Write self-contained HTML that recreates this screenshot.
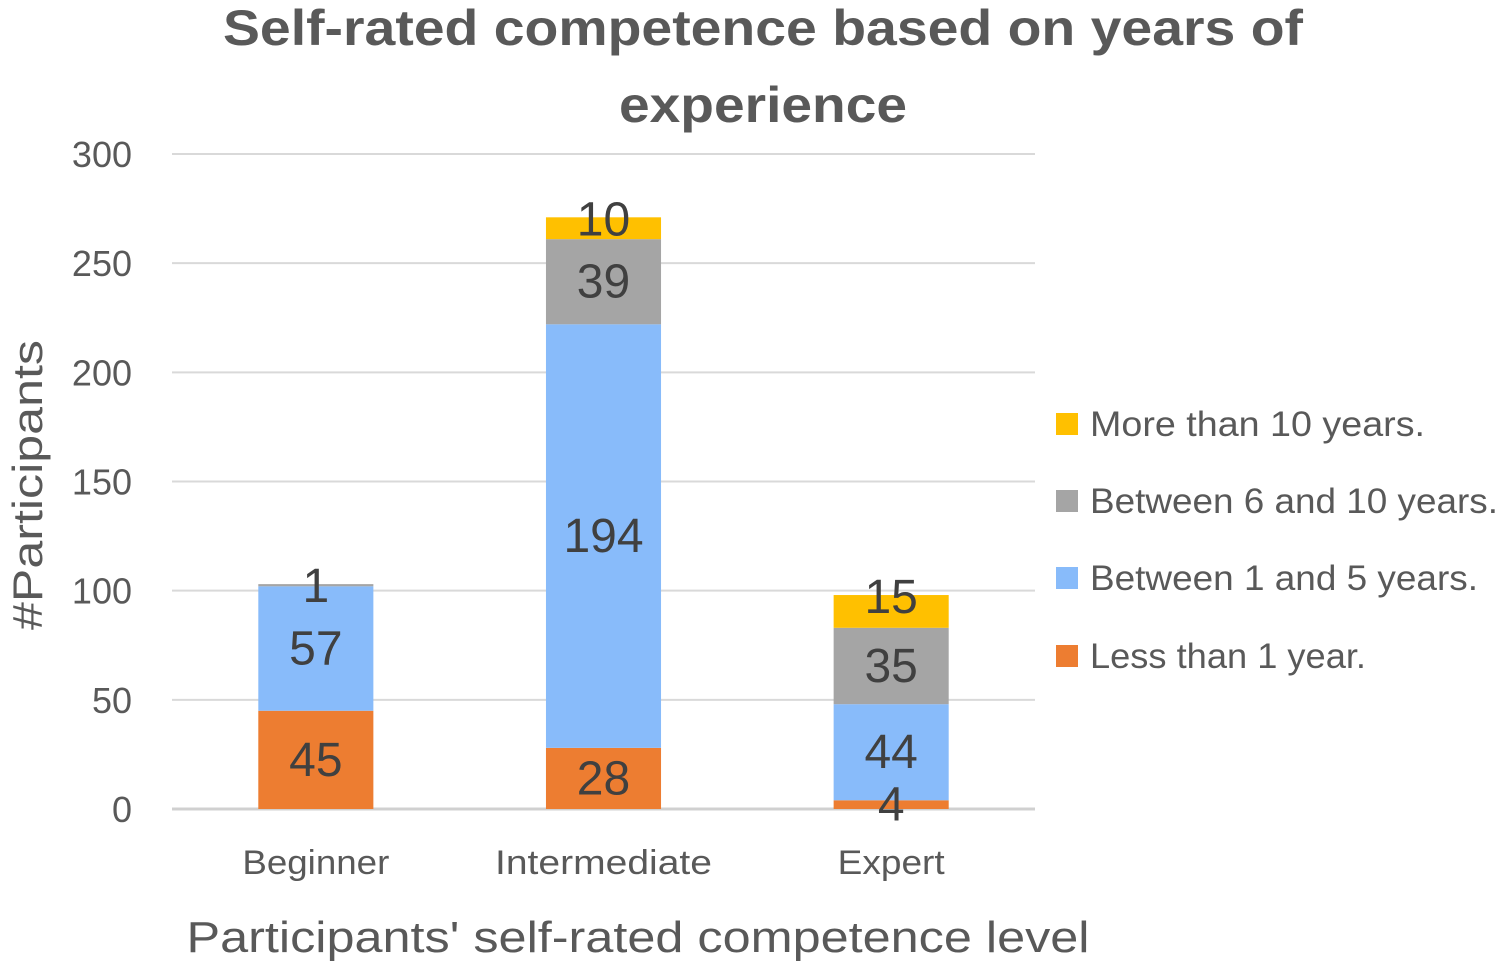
<!DOCTYPE html>
<html><head><meta charset="utf-8"><style>
html,body{margin:0;padding:0;background:#fff;}
svg{display:block;font-family:"Liberation Sans",sans-serif;}
</style></head><body>
<svg id="chart" width="1504" height="972" viewBox="0 0 1504 972">
<text x="763" y="45" text-anchor="middle" font-size="50" font-weight="bold" fill="#595959" textLength="1080" lengthAdjust="spacingAndGlyphs">Self-rated competence based on years of</text>
<text x="763" y="122" text-anchor="middle" font-size="50" font-weight="bold" fill="#595959" textLength="288" lengthAdjust="spacingAndGlyphs">experience</text>
<g id="grid"></g><g id="bars"></g><g id="labels"></g>
<text transform="translate(42,485) rotate(-90)" text-anchor="middle" font-size="42" fill="#595959" textLength="290" lengthAdjust="spacingAndGlyphs">#Participants</text>
<text x="638" y="952" text-anchor="middle" font-size="44" fill="#595959" textLength="903" lengthAdjust="spacingAndGlyphs">Participants' self-rated competence level</text>
<g id="legend"></g>
</svg>
<script>
const categories=["Beginner","Intermediate","Expert"];
const seriesNames=["Less than 1 year.","Between 1 and 5 years.","Between 6 and 10 years.","More than 10 years."];
const lessThan1=[45,28,4];
const between1and5=[57,194,44];
const between6and10=[1,39,35];
const moreThan10=[0,10,15];
const yTicks=[0,50,100,150,200,250,300];
const series=[lessThan1,between1and5,between6and10,moreThan10];
const colors=["#ED7D31","#88BBFA","#A5A5A5","#FFC000"];
const catLen=[147,217,107];
const legLen=[276,388,408,335];
const NS="http://www.w3.org/2000/svg";
const x0=172,x1=1035,yBase=809,yTop=154,yMax=300;
const y=v=>yBase-(v/yMax)*(yBase-yTop);
const band=(x1-x0)/categories.length;
const xc=i=>x0+band*(i+0.5);
const bw=band*0.4;
function mk(t,a,p){const e=document.createElementNS(NS,t);for(const k in a)e.setAttribute(k,a[k]);p.appendChild(e);return e;}
const grid=document.getElementById('grid'),bars=document.getElementById('bars'),labels=document.getElementById('labels'),legend=document.getElementById('legend');
yTicks.forEach(t=>{
 const l=mk('line',{x1:x0,x2:x1,y1:y(t),y2:y(t),stroke:t===0?'#D0D0D0':'#D9D9D9','stroke-width':t===0?3:2},grid);
 
 
 const tx=mk('text',{x:132,y:y(t)+13,'text-anchor':'end','font-size':36,fill:'#595959'},grid);
 tx.textContent=t;
 
 
});
categories.forEach((c,i)=>{
 let cum=0;
 let last=-1;
 series.forEach((s,j)=>{if(s[i]>0)last=j;});
 series.forEach((s,j)=>{
  const v=s[i]; if(v<=0) return;
  const r=mk('rect',{x:xc(i)-bw/2,y:y(cum+v),width:bw,height:y(cum)-y(cum+v),fill:colors[j]},bars);
  
  
  let mid=(y(cum)+y(cum+v))/2;
  if(j===last) mid=y(cum+v)+2;
  const lt=mk('text',{x:xc(i),y:mid+16,'text-anchor':'middle','font-size':48,fill:'#404040'},labels);
  lt.textContent=v;
  
  
  cum+=v;
 });
 const xt=mk('text',{x:xc(i),y:874,'text-anchor':'middle','font-size':34,fill:'#595959',textLength:catLen[i],lengthAdjust:'spacingAndGlyphs'},labels);
 xt.textContent=c;
 
 
});
const legY=[656,578,501,424];
seriesNames.forEach((n,j)=>{
 const g=mk('g',{},legend);
 
 
 mk('rect',{x:1056,y:legY[j]-11,width:22,height:22,fill:colors[j]},g);
 const t=mk('text',{x:1090,y:legY[j]+12,'font-size':35,fill:'#595959',textLength:legLen[j],lengthAdjust:'spacingAndGlyphs'},g);
 t.textContent=n;
});
</script>
</body></html>
